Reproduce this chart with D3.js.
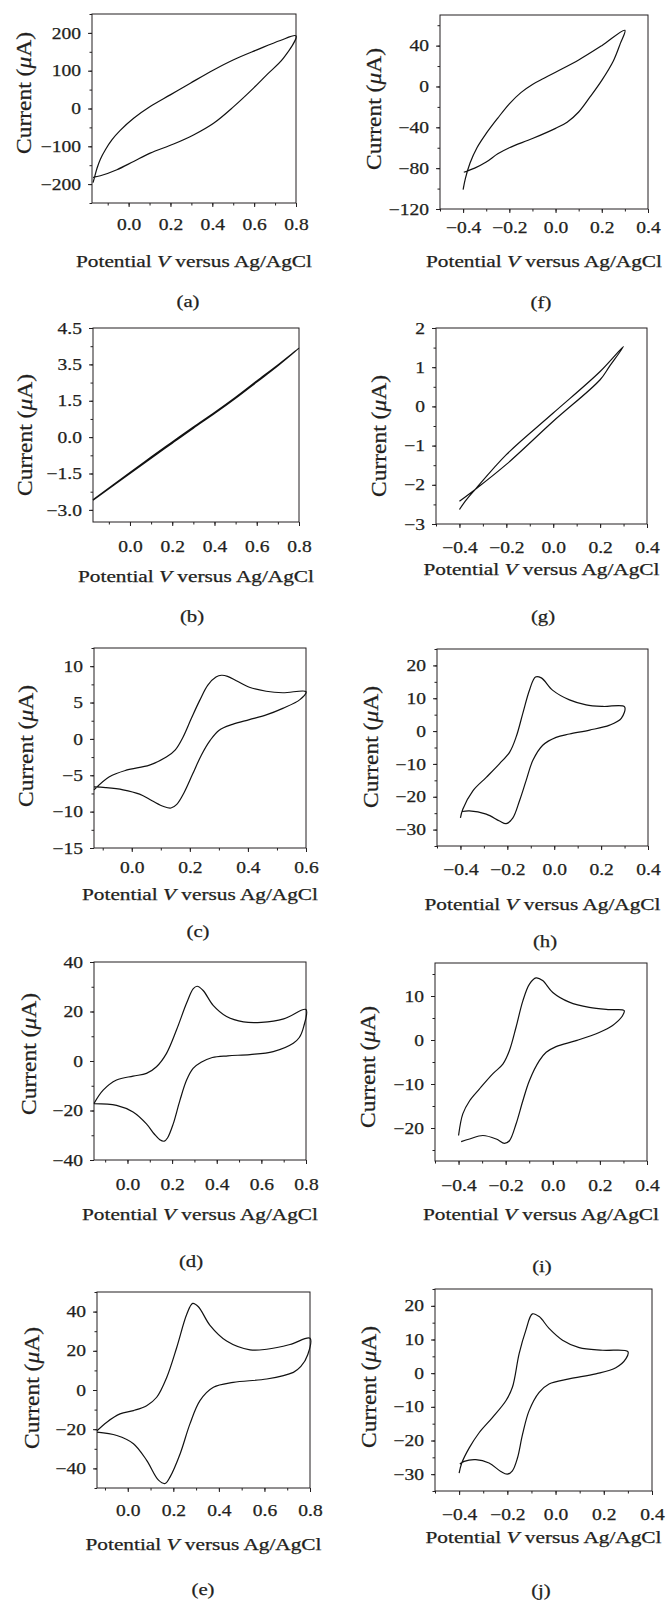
<!DOCTYPE html>
<html>
<head>
<meta charset="utf-8">
<script src="https://cdn.jsdelivr.net/npm/d3@7"></script>
<style>
  body { margin: 0; background: #fff; }
  svg { color: #231f20; }
  svg text { font-family: "Liberation Serif", "Times New Roman", serif; fill: #231f20; stroke: #231f20; stroke-width: 0.25px; }
  .tick text { font-size: 16px; }
</style>
</head>
<body>
<svg id="fig" width="672" height="1600"></svg>
<script>
// cyclic voltammograms, [potential V, current uA]
// fwd = anodic scan (left to right), rev = return scan

const cvA_fwd = [[-0.17,-196],[-0.162,-180],[-0.151,-158],[-0.135,-134],[-0.111,-109],[-0.08,-83],[-0.04,-58],[0.024,-26],[0.103,5],[0.199,36],[0.295,67],[0.406,102],[0.502,129],[0.613,155],[0.725,180],[0.8,192]];
const cvA_rev = [[0.8,189],[0.74,133],[0.66,89],[0.597,54],[0.502,5],[0.406,-39],[0.31,-70],[0.215,-94],[0.103,-118],[0.024,-140],[-0.056,-162],[-0.135,-178],[-0.17,-182]];

const cvB_fwd = [[-0.175,-2.58],[0,-1.46],[0.1,-0.82],[0.2,-0.2],[0.3,0.42],[0.4,1.02],[0.5,1.65],[0.6,2.32],[0.7,2.98],[0.8,3.67]];
const cvB_rev = [[0.8,3.67],[0.7,2.94],[0.6,2.27],[0.5,1.6],[0.4,0.97],[0.3,0.37],[0.2,-0.25],[0.12,-0.75],[0,-1.5],[-0.175,-2.6]];

const cvC_fwd = [[-0.13,-7.0],[-0.077,-5.2],[-0.019,-4.3],[0.061,-3.6],[0.119,-2.5],[0.15,-1.5],[0.176,0.2],[0.205,2.8],[0.234,5.3],[0.262,7.4],[0.29,8.5],[0.309,8.75],[0.33,8.6],[0.36,8.0],[0.405,7.1],[0.463,6.55],[0.52,6.35],[0.6,6.5]];
const cvC_rev = [[0.6,6.5],[0.579,5.4],[0.52,4.2],[0.463,3.3],[0.405,2.65],[0.347,2.0],[0.301,1.2],[0.27,-0.2],[0.24,-2.2],[0.21,-4.8],[0.18,-7.4],[0.155,-9.0],[0.135,-9.5],[0.11,-9.3],[0.07,-8.5],[0.027,-7.6],[-0.03,-7.0],[-0.09,-6.7],[-0.13,-6.6]];

const cvD_fwd = [[-0.15,-17.2],[-0.109,-11.8],[-0.049,-7.7],[0.025,-6.1],[0.085,-5.0],[0.13,-2.3],[0.175,3.1],[0.22,12.6],[0.265,23.4],[0.295,29.2],[0.312,30.2],[0.339,28.5],[0.384,22.5],[0.444,18.0],[0.52,15.8],[0.6,15.6],[0.7,17.0],[0.8,20.8]];
const cvD_rev = [[0.8,20.8],[0.79,14],[0.77,9.5],[0.743,7.2],[0.653,3.8],[0.549,2.6],[0.45,2.1],[0.38,1.4],[0.33,-0.5],[0.294,-3],[0.265,-7.7],[0.235,-15.9],[0.205,-25.4],[0.18,-31],[0.165,-32.4],[0.145,-31.8],[0.12,-29.5],[0.085,-25.4],[0.025,-20.6],[-0.049,-17.9],[-0.15,-17.2]];

const cvE_fwd = [[-0.135,-20.8],[-0.092,-16.4],[-0.034,-12.2],[0.025,-10.5],[0.083,-8.0],[0.127,-3.7],[0.171,6.4],[0.215,21.7],[0.259,38.6],[0.285,44.2],[0.31,42.5],[0.361,33],[0.434,25],[0.537,20.5],[0.61,20.8],[0.712,23.2],[0.8,26.4]];
const cvE_rev = [[0.8,26.4],[0.79,18],[0.76,12],[0.727,9.0],[0.61,5.6],[0.463,3.9],[0.376,1.4],[0.317,-5.4],[0.273,-17.3],[0.23,-32.5],[0.186,-44.3],[0.164,-47.7],[0.135,-46],[0.083,-35.9],[0.025,-27.4],[-0.048,-23.2],[-0.135,-21.5]];

const cvF_fwd = [[-0.4,-101],[-0.39,-90],[-0.37,-75],[-0.34,-60],[-0.3,-46],[-0.25,-31],[-0.2,-17],[-0.15,-6],[-0.1,2],[-0.05,8],[0,14],[0.1,26],[0.2,40],[0.3,55]];
const cvF_rev = [[0.3,55],[0.28,42],[0.25,25],[0.2,6],[0.15,-10],[0.1,-25],[0.05,-35],[0,-41],[-0.1,-51],[-0.2,-60],[-0.25,-66],[-0.3,-74],[-0.35,-80],[-0.397,-84]];

const cvG_fwd = [[-0.4,-2.63],[-0.37,-2.38],[-0.333,-2.12],[-0.2,-1.23],[0,-0.17],[0.2,0.89],[0.3,1.53]];
const cvG_rev = [[0.3,1.53],[0.24,1.02],[0.2,0.68],[0,-0.38],[-0.2,-1.48],[-0.333,-2.12],[-0.4,-2.42]];

const cvH_fwd = [[-0.4,-26.4],[-0.39,-23.8],[-0.347,-18.2],[-0.29,-14.1],[-0.233,-9.9],[-0.19,-6.4],[-0.162,-1.7],[-0.134,5.4],[-0.105,12.6],[-0.08,16.5],[-0.055,16.2],[-0.006,12.4],[0.065,9.5],[0.136,8.0],[0.208,7.5],[0.3,7.4]];
const cvH_rev = [[0.3,7.4],[0.286,3.9],[0.236,1.8],[0.151,0.3],[0.065,-0.9],[0.008,-1.9],[-0.049,-4.3],[-0.091,-8.9],[-0.12,-15.1],[-0.148,-21.2],[-0.177,-26.5],[-0.205,-28.2],[-0.233,-27.4],[-0.29,-25.3],[-0.362,-24.3],[-0.393,-24.5]];

const cvI_fwd = [[-0.4,-21.7],[-0.382,-16.8],[-0.353,-13.8],[-0.311,-11.1],[-0.255,-7.7],[-0.212,-5.5],[-0.184,-2.4],[-0.156,2.9],[-0.127,8.9],[-0.099,12.7],[-0.071,14.1],[-0.043,13.5],[0,10.8],[0.07,8.6],[0.155,7.4],[0.24,6.9],[0.303,6.7]];
const cvI_rev = [[0.303,6.7],[0.296,5.5],[0.254,3.3],[0.197,1.7],[0.099,-0.15],[0.014,-1.5],[-0.028,-2.8],[-0.057,-4.7],[-0.099,-9.2],[-0.127,-13.8],[-0.156,-19.1],[-0.184,-22.9],[-0.205,-23.5],[-0.24,-22.5],[-0.297,-21.7],[-0.353,-22.5],[-0.389,-23.1]];

const cvJ_fwd = [[-0.4,-29.7],[-0.389,-26.7],[-0.358,-22.2],[-0.317,-17.7],[-0.262,-13.2],[-0.206,-8.2],[-0.179,-4.2],[-0.151,5.8],[-0.123,12.8],[-0.096,17.6],[-0.068,16.8],[-0.027,13.3],[0.029,9.8],[0.098,7.6],[0.195,6.8],[0.3,6.4]];
const cvJ_rev = [[0.3,6.4],[0.292,4.3],[0.25,1.6],[0.167,-0.2],[0.056,-1.7],[-0.027,-3.2],[-0.068,-5.7],[-0.11,-11.2],[-0.137,-18.2],[-0.158,-25.2],[-0.179,-29],[-0.2,-30],[-0.227,-29.2],[-0.276,-26.7],[-0.331,-25.7],[-0.379,-26.2],[-0.397,-27]];

// tick values and labels
const xTicksPos = [0, 0.2, 0.4, 0.6, 0.8];
const xLabelsPos = ["0.0", "0.2", "0.4", "0.6", "0.8"];
const xTicksC = [0, 0.2, 0.4, 0.6];
const xLabelsC = ["0.0", "0.2", "0.4", "0.6"];
const xTicksNeg = [-0.4, -0.2, 0, 0.2, 0.4];
const xLabelsNeg = ["\u22120.4", "\u22120.2", "0.0", "0.2", "0.4"];

const yTicksA = [-200, -100, 0, 100, 200];
const yLabelsA = ["\u2212200", "\u2212100", "0", "100", "200"];
const yTicksB = [-3, -1.5, 0, 1.5, 3, 4.5];
const yLabelsB = ["\u22123.0", "\u22121.5", "0.0", "1.5", "3.5", "4.5"]; // as printed
const yTicksC = [-15, -10, -5, 0, 5, 10];
const yLabelsC = ["\u221215", "\u221210", "\u22125", "0", "5", "10"];
const yTicksDE = [-40, -20, 0, 20, 40];
const yLabelsDE = ["\u221240", "\u221220", "0", "20", "40"];
const yTicksF = [-120, -80, -40, 0, 40];
const yLabelsF = ["\u2212120", "\u221280", "\u221240", "0", "40"];
const yTicksG = [-3, -2, -1, 0, 1, 2];
const yLabelsG = ["\u22123", "\u22122", "\u22121", "0", "1", "2"];
const yTicksHJ = [-30, -20, -10, 0, 10, 20];
const yLabelsHJ = ["\u221230", "\u221220", "\u221210", "0", "10", "20"];
const yTicksI = [-20, -10, 0, 10];
const yLabelsI = ["\u221220", "\u221210", "0", "10"];

// layout of each panel: plot box [left, top, right, bottom] in page pixels
const panels = [
  { tag: "(a)", box: [92, 14, 296, 203], xd: [-0.175, 0.8], yd: [-250, 250], xt: xTicksPos, xl: xLabelsPos, xm: 0.1, yt: yTicksA, yl: yLabelsA, ym: 50,
    cv: [cvA_fwd, cvA_rev], tb: 27, ylab: [31, 93], xlab: 267, plab: [188, 307] },
  { tag: "(b)", box: [93, 328, 299, 522], xd: [-0.175, 0.8], yd: [-3.5, 4.5], xt: xTicksPos, xl: xLabelsPos, xm: 0.1, yt: yTicksB, yl: yLabelsB, ym: 0.75,
    cv: [cvB_fwd, cvB_rev], tb: 30, ylab: [32, 435], xlab: 582, plab: [192, 622] },
  { tag: "(c)", box: [94, 648, 306, 848], xd: [-0.13, 0.6], yd: [-15, 12.5], xt: xTicksC, xl: xLabelsC, xm: 0.1, yt: yTicksC, yl: yLabelsC, ym: 2.5,
    cv: [cvC_fwd, cvC_rev], tb: 25, ylab: [33, 746], xlab: 900, plab: [198, 937] },
  { tag: "(d)", box: [94, 962, 306, 1160], xd: [-0.15, 0.8], yd: [-40, 40], xt: xTicksPos, xl: xLabelsPos, xm: 0.1, yt: yTicksDE, yl: yLabelsDE, ym: 10,
    cv: [cvD_fwd, cvD_rev], tb: 30, ylab: [36, 1054], xlab: 1220, plab: [191, 1267] },
  { tag: "(e)", box: [97, 1292, 310, 1488], xd: [-0.135, 0.8], yd: [-50, 50], xt: xTicksPos, xl: xLabelsPos, xm: 0.1, yt: yTicksDE, yl: yLabelsDE, ym: 10,
    cv: [cvE_fwd, cvE_rev], tb: 28, ylab: [39, 1388], xlab: 1550, plab: [203, 1595] },
  { tag: "(f)", box: [440, 15, 648, 209], xd: [-0.5, 0.4], yd: [-120, 70], xt: xTicksNeg, xl: xLabelsNeg, xm: 0.1, yt: yTicksF, yl: yLabelsF, ym: 20,
    cv: [cvF_fwd, cvF_rev], tb: 24, ylab: [381, 109], xlab: 267, plab: [541, 308] },
  { tag: "(g)", box: [436, 328, 647, 524], xd: [-0.5, 0.4], yd: [-3, 2], xt: xTicksNeg, xl: xLabelsNeg, xm: 0.1, yt: yTicksG, yl: yLabelsG, ym: 0.5,
    cv: [cvG_fwd, cvG_rev], tb: 29, ylab: [386, 436], xlab: 575, plab: [543, 622] },
  { tag: "(h)", box: [437, 649, 648, 846], xd: [-0.5, 0.4], yd: [-35, 25], xt: xTicksNeg, xl: xLabelsNeg, xm: 0.1, yt: yTicksHJ, yl: yLabelsHJ, ym: 5,
    cv: [cvH_fwd, cvH_rev], tb: 29, ylab: [378, 747], xlab: 910, plab: [545, 947] },
  { tag: "(i)", box: [435, 963, 647, 1161], xd: [-0.5, 0.4], yd: [-27.5, 17.5], xt: xTicksNeg, xl: xLabelsNeg, xm: 0.1, yt: yTicksI, yl: yLabelsI, ym: 5,
    cv: [cvI_fwd, cvI_rev], tb: 30, ylab: [375, 1067], xlab: 1220, plab: [542, 1272] },
  { tag: "(j)", box: [435, 1289, 652, 1491], xd: [-0.5, 0.4], yd: [-35, 25], xt: xTicksNeg, xl: xLabelsNeg, xm: 0.1, yt: yTicksHJ, yl: yLabelsHJ, ym: 5,
    cv: [cvJ_fwd, cvJ_rev], tb: 29, ylab: [376, 1387], xlab: 1543, plab: [541, 1596] }
];

const svg = d3.select("#fig");
const ink = "#231f20";

// the printed figure is wider than it is tall, so stretch text sideways
function widen(sel, k) {
  sel.each(function () {
    const w = this.getComputedTextLength();
    if (w > 0) d3.select(this).attr("textLength", w * k).attr("lengthAdjust", "spacingAndGlyphs");
  });
}

function minorValues(domain, step) {
  const out = [];
  for (let k = Math.ceil(domain[0] / step - 1e-9); k * step <= domain[1] + 1e-9; k++) out.push(+(k * step).toFixed(6));
  return out;
}

panels.forEach(p => {
  const [l, t, r, b] = p.box;
  const x = d3.scaleLinear().domain(p.xd).range([l, r]);
  const y = d3.scaleLinear().domain(p.yd).range([b, t]);
  const g = svg.append("g");

  // minor ticks
  g.append("g").attr("transform", `translate(0,${b})`)
    .call(d3.axisBottom(x).tickValues(minorValues(p.xd, p.xm)).tickSize(2.5).tickFormat(""))
    .call(a => a.select(".domain").remove());
  g.append("g").attr("transform", `translate(${l},0)`)
    .call(d3.axisLeft(y).tickValues(minorValues(p.yd, p.ym)).tickSize(2.5).tickFormat(""))
    .call(a => a.select(".domain").remove());

  // major ticks with labels
  const xAxis = g.append("g").attr("transform", `translate(0,${b})`)
    .call(d3.axisBottom(x).tickValues(p.xt).tickSize(4).tickPadding(p.tb - 4 - 11.4)
      .tickFormat(d => p.xl[p.xt.indexOf(d)]))
    .call(a => a.select(".domain").remove());
  const yAxis = g.append("g").attr("transform", `translate(${l},0)`)
    .call(d3.axisLeft(y).tickValues(p.yt).tickSize(4).tickPadding(7)
      .tickFormat(d => p.yl[p.yt.indexOf(d)]))
    .call(a => a.select(".domain").remove());
  g.selectAll(".tick line").attr("stroke-width", 1);
  widen(xAxis.selectAll("text"), 1.22);
  widen(yAxis.selectAll("text"), 1.22);

  // frame
  g.append("rect").attr("x", l).attr("y", t).attr("width", r - l).attr("height", b - t)
    .attr("fill", "none").attr("stroke", ink).attr("stroke-width", 1);

  // curve
  const line = d3.line().x(d => x(d[0])).y(d => y(d[1])).curve(d3.curveCatmullRom.alpha(0.5));
  g.append("path").attr("d", line(p.cv[0].concat(p.cv[1].slice(1))))
    .attr("fill", "none").attr("stroke", "#111").attr("stroke-width", 1.2).attr("stroke-linejoin", "round");

  // y axis title
  const yt = g.append("text")
    .attr("transform", `translate(${p.ylab[0]},${p.ylab[1]}) rotate(-90)`)
    .attr("text-anchor", "middle").style("font-size", "22px");
  yt.append("tspan").text("Current (");
  yt.append("tspan").attr("font-style", "italic").text("\u03bc");
  yt.append("tspan").text("A)");
  yt.attr("textLength", 122).attr("lengthAdjust", "spacingAndGlyphs");

  // x axis title
  const xtit = g.append("text").attr("x", (l + r) / 2).attr("y", p.xlab)
    .attr("text-anchor", "middle").style("font-size", "16px");
  xtit.append("tspan").text("Potential ");
  xtit.append("tspan").attr("font-style", "italic").text("V");
  xtit.append("tspan").text(" versus Ag/AgCl");
  xtit.attr("textLength", 236).attr("lengthAdjust", "spacingAndGlyphs");

  // panel tag
  const tag = g.append("text").attr("x", p.plab[0]).attr("y", p.plab[1])
    .attr("text-anchor", "middle").style("font-size", "17px").text(p.tag);
  widen(tag, 1.22);
});
</script>
</body>
</html>
